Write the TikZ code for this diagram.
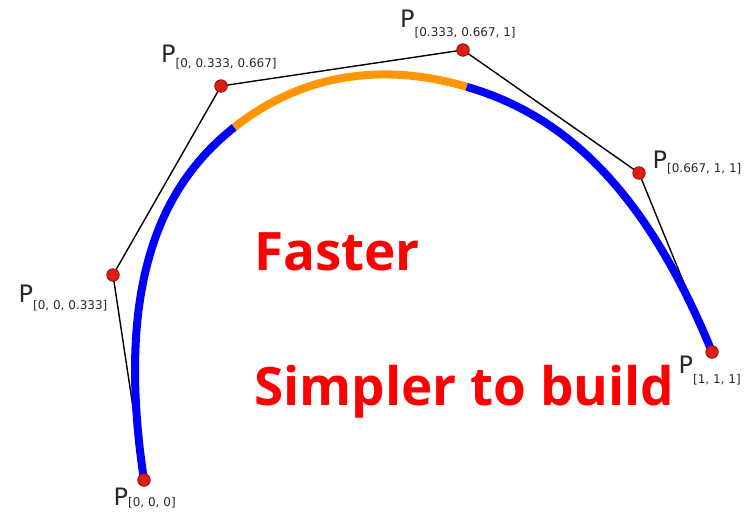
\documentclass[tikz,border=0pt]{standalone}
\usepackage{fontspec}
\newfontfamily\labfont{DejaVu Sans}
\newfontfamily\bigfont{Open Sans}
\definecolor{ptfill}{RGB}{222,30,18}
\definecolor{ptdraw}{RGB}{150,10,5}
\definecolor{curveblue}{RGB}{0,0,255}
\definecolor{curveorange}{RGB}{255,150,0}
\definecolor{labgray}{RGB}{40,40,40}
\newcommand{\plab}[2]{{\fontsize{24}{24}\selectfont P}\raisebox{-#2pt}{\fontsize{12}{12}\selectfont #1}}
\tikzset{
  cpt/.style={circle, fill=ptfill, draw=ptdraw, line width=0.8pt, minimum size=12.5pt, inner sep=0pt},
  poly/.style={draw=black, line width=1.4pt},
  seg/.style={line width=8pt},
  plabel/.style={anchor=base west, inner sep=0pt, text=labgray, font=\labfont},
  bigtext/.style={anchor=base west, inner sep=0pt, text=red, font=\bigfont\bfseries\fontsize{53}{53}\selectfont}
}
\begin{document}
\begin{tikzpicture}[x=1pt,y=-1pt]
\useasboundingbox (0,0) rectangle (754,512);
% control points
\coordinate (c0) at (144,480);
\coordinate (c1) at (113,275);
\coordinate (c2) at (221,86);
\coordinate (c3) at (463,50);
\coordinate (c4) at (639,173);
\coordinate (c5) at (712,352);
% control polygon
\draw[poly] (c0) -- (c1) -- (c2) -- (c3) -- (c4) -- (c5);
% B-spline segments
\draw[seg, curveblue] (c0) .. controls (113,275) and (167,180.5) .. (234.333,127.25);
\draw[seg, curveorange] (234.333,127.25) .. controls (301.667,74) and (382.333,62) .. (466.667,86.75);
\draw[seg, curveblue] (466.667,86.75) .. controls (551,111.5) and (639,173) .. (c5);
% points
\node[cpt] (p0) at (c0) {};
\node[cpt] (p1) at (c1) {};
\node[cpt] (p2) at (c2) {};
\node[cpt] (p3) at (c3) {};
\node[cpt] (p4) at (c4) {};
\node[cpt] (p5) at (c5) {};
% labels
\node[plabel] (l2) at (161,62.5) {\plab{[0, 0.333, 0.667]}{5}};
\node[plabel] (l3) at (400,27) {\plab{[0.333, 0.667, 1]}{9.5}};
\node[plabel] (l4) at (652.5,168) {\plab{[0.667, 1, 1]}{4.5}};
\node[plabel] (l1) at (18.5,302) {\plab{[0, 0, 0.333]}{7.5}};
\node[plabel] (l0) at (113.5,505) {\plab{[0, 0, 0]}{1}};
\node[plabel] (l5) at (678.5,373) {\plab{[1, 1, 1]}{10.5}};
% big texts
\node[bigtext] (t1) at (254,270) {Faster};
\node[bigtext] (t2) at (254,405) {Simpler to build};
\end{tikzpicture}
\end{document}
